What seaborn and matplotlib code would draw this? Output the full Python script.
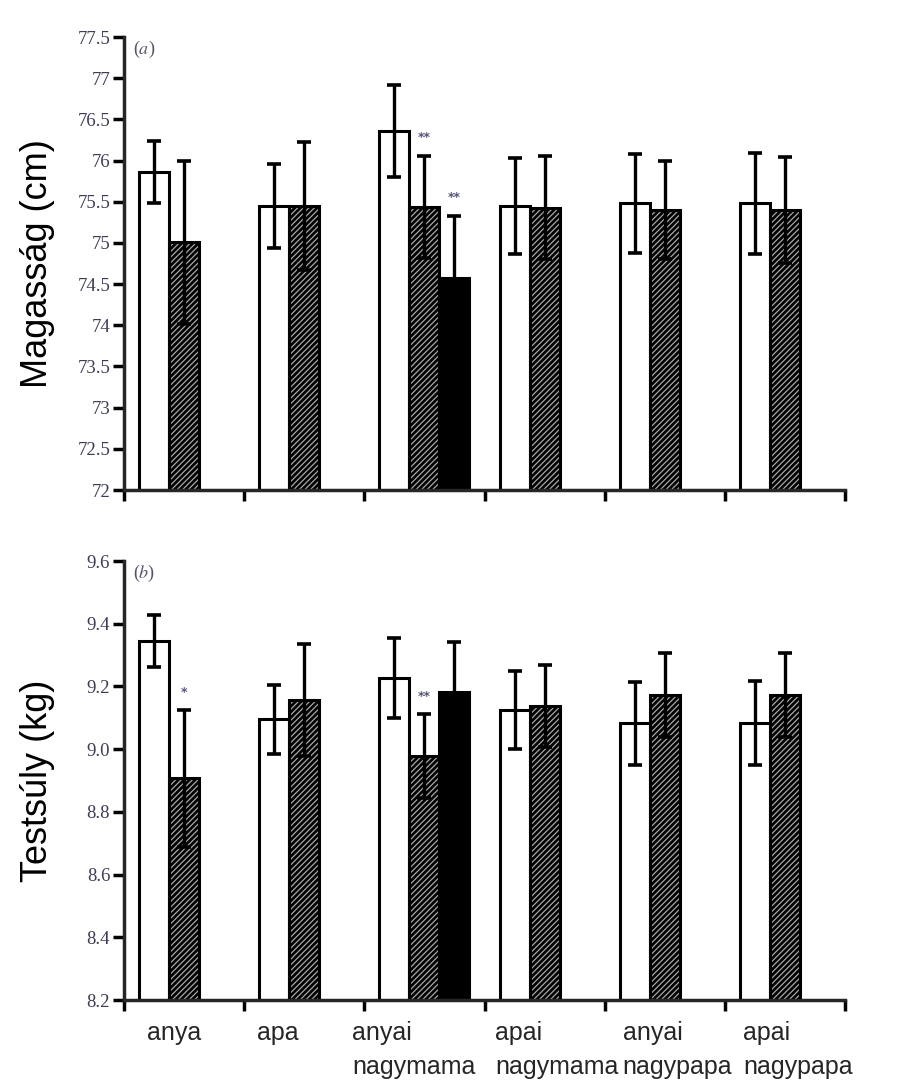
import numpy as np
import pandas as pd
import matplotlib
matplotlib.use("Agg")
import matplotlib.pyplot as plt
import matplotlib.transforms as mtransforms
from matplotlib.patches import Rectangle
import seaborn as sns

# data
categories = ['anya', 'apa', 'anyai\nnagymama', 'apai\nnagymama', 'anyai\nnagypapa', 'apai\nnagypapa']
groups = ['nem rokon', 'rokon', 'harmadik']
nan = np.nan

height_white = [75.86, 75.45, 76.36, 75.45, 75.48, 75.48]
height_white_err = [0.38, 0.51, 0.56, 0.58, 0.60, 0.61]
height_hatch = [75.01, 75.45, 75.44, 75.43, 75.40, 75.40]
height_hatch_err = [0.99, 0.78, 0.62, 0.62, 0.60, 0.64]
height_black = [nan, nan, 74.58, nan, nan, nan]
height_black_err = [nan, nan, 0.75, nan, nan, nan]

weight_white = [9.346, 9.096, 9.227, 9.125, 9.083, 9.083]
weight_white_err = [0.083, 0.11, 0.128, 0.125, 0.132, 0.133]
weight_hatch = [8.907, 9.157, 8.978, 9.138, 9.173, 9.173]
weight_hatch_err = [0.218, 0.18, 0.134, 0.13, 0.134, 0.134]
weight_black = [nan, nan, 9.182, nan, nan, nan]
weight_black_err = [nan, nan, 0.16, nan, nan, nan]

# significance marks: (category, group, text)
height_sig = [('anyai\nnagymama', 'rokon', '**'), ('anyai\nnagymama', 'harmadik', '**')]
weight_sig = [('anya', 'rokon', '*'), ('anyai\nnagymama', 'rokon', '**')]

height_ticks = [72, 72.5, 73, 73.5, 74, 74.5, 75, 75.5, 76, 76.5, 77, 77.5]
height_ticklabels = ['72', '72.5', '73', '73.5', '74', '74.5', '75', '75.5', '76', '76.5', '77', '77.5']
weight_ticks = [8.2, 8.4, 8.6, 8.8, 9.0, 9.2, 9.4, 9.6]
weight_ticklabels = ['8.2', '8.4', '8.6', '8.8', '9.0', '9.2', '9.4', '9.6']

# label placement (left edge relative to category centre)
label_shift = [-0.31, -0.39, -0.60, -0.41, -0.35, -0.35]


def make_df(w, we, h, he, b, be):
    df = pd.DataFrame({
        'rokon': categories * 3,
        'csoport': np.repeat(groups, len(categories)),
        'ertek': w + h + b,
        'hiba': we + he + be,
    })
    return df.dropna()


sns.set_style('ticks')
plt.rcParams['hatch.linewidth'] = 0.9
plt.rcParams['mathtext.fontset'] = 'stix'

fig = plt.figure(figsize=(9.14, 10.89), dpi=100)
ax1 = fig.add_axes([0.1357, 0.550, 0.7888, 0.416])
ax2 = fig.add_axes([0.1357, 0.0817, 0.7888, 0.4031])

tick_color = '#3c3c55'


def draw_panel(ax, df, ylim, ticks, ticklabels, ylabel, tag, sig, sig_off):
    sns.barplot(data=df, x='rokon', y='ertek', hue='csoport', order=categories,
                hue_order=groups, palette=['white', 'black', 'black'], width=0.75,
                errorbar=None, legend=False, ax=ax)
    bar_info = {}
    for cont, g in zip(ax.containers, groups):
        sub = df[df['csoport'] == g].copy()
        sub['pos'] = sub['rokon'].map(categories.index)
        sub = sub.sort_values('pos')
        xs, ys, es = [], [], []
        for bar, (_, row) in zip(cont, sub.iterrows()):
            if g == 'nem rokon':
                bar.set_facecolor('white')
                bar.set_edgecolor('black')
                bar.set_linewidth(2.2)
            elif g == 'rokon':
                bar.set_facecolor('black')
                bar.set_edgecolor('#a8a8a8')
                bar.set_hatch('//////')
                bar.set_linewidth(0)
                ax.add_patch(Rectangle(bar.get_xy(), bar.get_width(), bar.get_height(),
                                       fill=False, edgecolor='black', linewidth=2.2,
                                       zorder=bar.get_zorder() + 0.1))
            else:
                bar.set_facecolor('black')
                bar.set_edgecolor('black')
                bar.set_linewidth(2.2)
            cx = bar.get_x() + bar.get_width() / 2
            xs.append(cx)
            ys.append(row['ertek'])
            es.append(row['hiba'])
            bar_info[(row['rokon'], g)] = (cx, row['ertek'] + row['hiba'])
        ax.errorbar(xs, ys, yerr=es, fmt='none', ecolor='black', elinewidth=2.4,
                    capsize=5, capthick=2.6, zorder=5)

    for cat, g, txt in sig:
        cx, top = bar_info[(cat, g)]
        ax.text(cx, top + sig_off, txt, ha='center', va='center', fontsize=9,
                color='#55557a', fontweight='bold')

    ax.set_ylim(*ylim)
    ax.set_xlim(-0.5, len(categories) - 0.5)
    ax.set_yticks(ticks)
    ax.set_yticklabels(ticklabels, fontfamily='Liberation Serif', fontsize=13.5, color=tick_color)
    ax.set_xticks(np.arange(-0.5, len(categories), 1.0))
    ax.set_xticklabels([])
    ax.set_xlabel('')
    ax.set_ylabel(ylabel, fontfamily='Liberation Sans', fontsize=26, color='black')
    ax.yaxis.set_label_coords(-0.096, 0.5)
    ax.tick_params(axis='both', direction='out', length=8, width=2.5, color='black')
    ax.tick_params(axis='y', pad=2)
    for side in ['top', 'right']:
        ax.spines[side].set_visible(False)
    for side in ['left', 'bottom']:
        ax.spines[side].set_linewidth(2.5)
    ax.text(0.013, 0.995, tag, transform=ax.transAxes, ha='left', va='top',
            fontsize=13, color='#55556a', fontfamily='Liberation Serif')


df_h = make_df(height_white, height_white_err, height_hatch, height_hatch_err,
               height_black, height_black_err)
df_w = make_df(weight_white, weight_white_err, weight_hatch, weight_hatch_err,
               weight_black, weight_black_err)

draw_panel(ax1, df_h, (72, 77.5), height_ticks, height_ticklabels, 'Magasság (cm)',
           r'($\mathit{a}$)', height_sig, 0.22)
draw_panel(ax2, df_w, (8.2, 9.6), weight_ticks, weight_ticklabels, 'Testsúly (kg)',
           r'($\mathit{b}$)', weight_sig, 0.055)

# category labels under the lower panel
trans = mtransforms.blended_transform_factory(ax2.transData, fig.transFigure)
for i, (cat, shift) in enumerate(zip(categories, label_shift)):
    ax2.text(i + shift, 0.062, cat, transform=trans, ha='left', va='top',
             fontsize=18, fontfamily='Liberation Sans', linespacing=1.5,
             multialignment='left')

fig.savefig('out.png', dpi=100)
